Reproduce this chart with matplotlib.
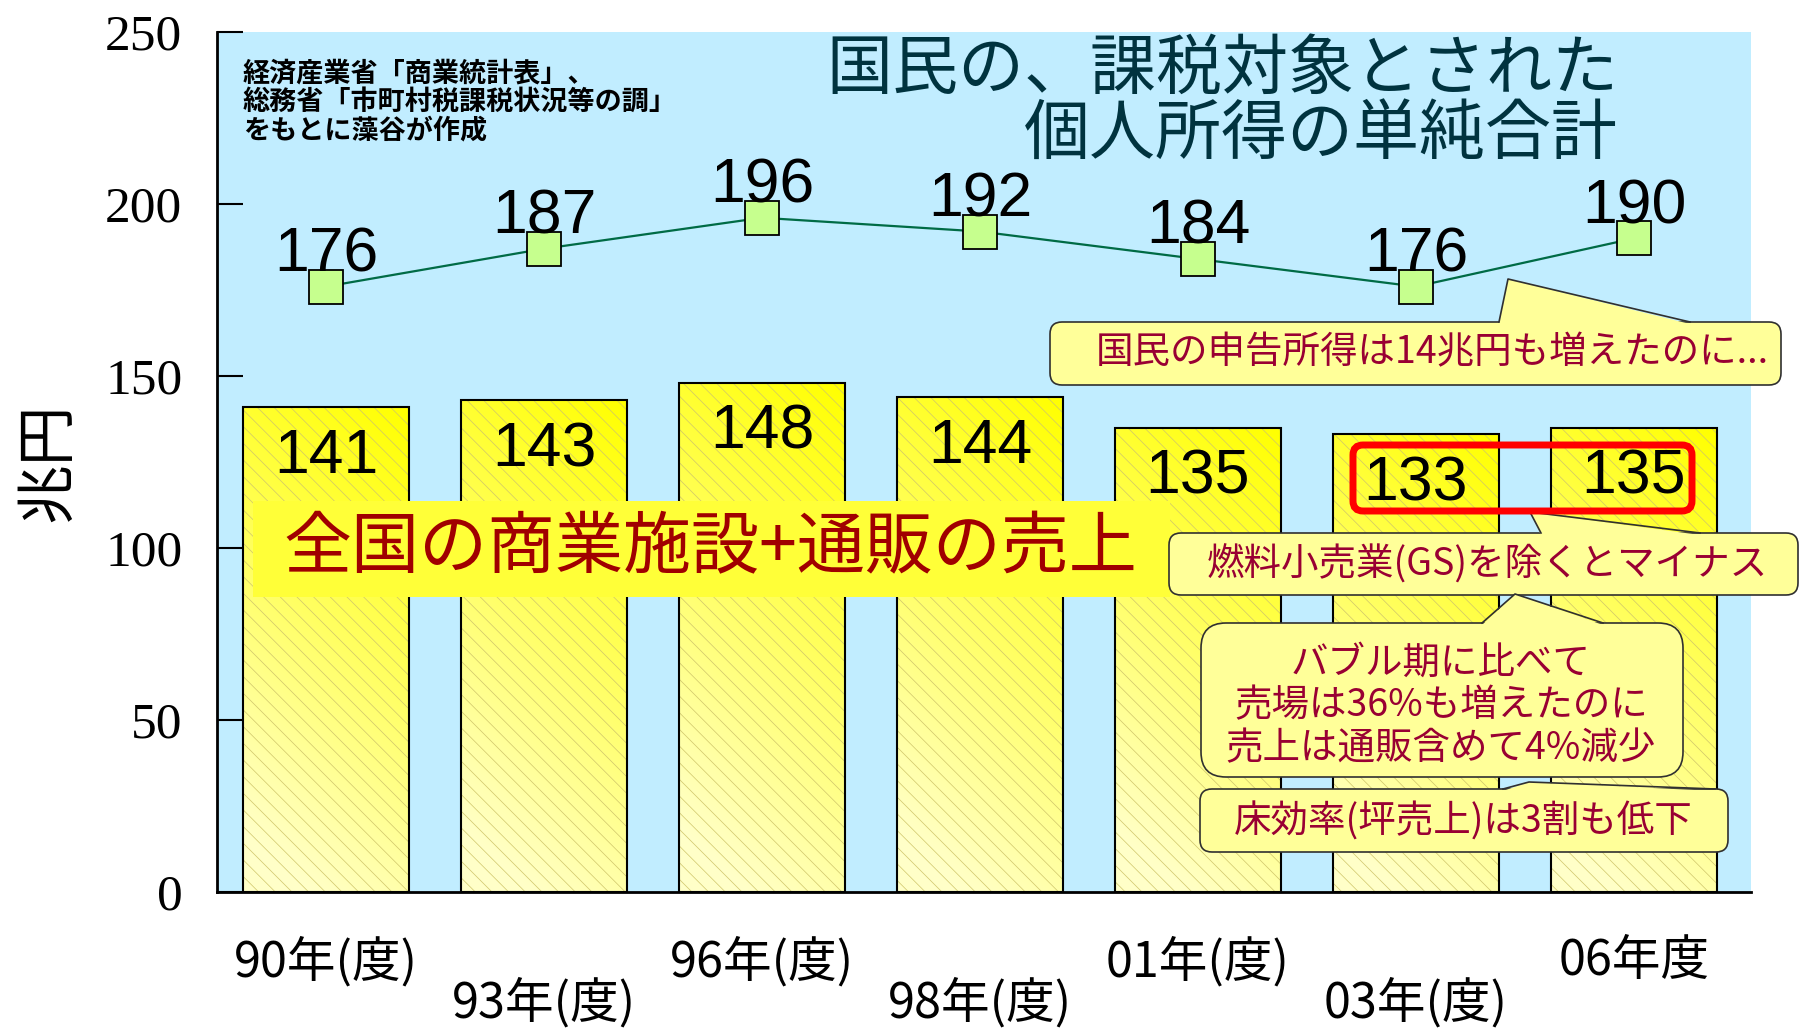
"""
全国の商業施設+通販の売上 vs 国民の課税対象個人所得（棒グラフ + 折れ線）。
"""
import numpy as np

import matplotlib
matplotlib.use("Agg")
import matplotlib.pyplot as plt
from matplotlib.colors import LinearSegmentedColormap
from matplotlib.patches import FancyBboxPatch, Polygon, Rectangle

# ── Data ──────────────────────────────────────────────────────────────────────
years   = ["90年(度)", "93年(度)", "96年(度)", "98年(度)", "01年(度)", "03年(度)", "06年度"]
sales   = [141, 143, 148, 144, 135, 133, 135]   # 全国の商業施設+通販の売上（兆円）
income  = [176, 187, 196, 192, 184, 176, 190]   # 課税対象個人所得の単純合計（兆円）
y_ticks = [0, 50, 100, 150, 200, 250]

y_label      = "兆円"
title_lines  = ["国民の、課税対象とされた", "個人所得の単純合計"]
source_lines = ["経済産業省「商業統計表」、", "総務省「市町村税課税状況等の調」", "をもとに藻谷が作成"]
sales_label  = "全国の商業施設+通販の売上"
notes = [
    "国民の申告所得は14兆円も増えたのに...",
    "燃料小売業(GS)を除くとマイナス",
    "バブル期に比べて\n売場は36%も増えたのに\n売上は通販含めて4%減少",
    "床効率(坪売上)は3割も低下",
]

# ── Style ─────────────────────────────────────────────────────────────────────
W, H, DPI = 1802, 1034, 100
BG        = "#c1edff"
LINE_C    = "#006b45"
MARK_C    = "#c6ff8e"
HATCH_C   = "#cfc56a"
NOTE_FC   = "#ffff99"
NOTE_EC   = "#303030"
NOTE_TXT  = "#990033"
LABEL_BG  = "#ffff38"
LABEL_TXT = "#a00000"
TITLE_C   = "#00333f"
NUM_FONT  = ["Liberation Sans Narrow", "Liberation Sans"]
TICK_FONT = ["Liberation Sans Narrow", "Noto Sans CJK JP", "DejaVu Sans"]

plt.rcParams["font.family"] = ["Noto Sans CJK JP", "DejaVu Sans"]
plt.rcParams["hatch.linewidth"] = 0.5

bar_cmap = LinearSegmentedColormap.from_list("bar", ["#ffff00", "#ffff60", "#ffffc8"])


def gradient_fill(ax, patch):
    """Diagonal yellow gradient (top-right strong -> bottom-left pale) clipped to a bar."""
    x0, y0 = patch.get_x(), patch.get_y()
    w, h = patch.get_width(), patch.get_height()
    rows, cols = np.mgrid[0:1:200j, 0:1:40j]
    t = np.clip(0.85 * rows + 0.25 * (1 - cols), 0, 1)
    im = ax.imshow(t, cmap=bar_cmap, vmin=0, vmax=1, extent=(x0, x0 + w, y0, y0 + h),
                   origin="upper", aspect="auto", interpolation="bilinear", zorder=2)
    im.set_clip_path(patch)


def callout(ov, box, pointer, radius):
    """Rounded note box with a triangular pointer leaving its top edge."""
    x0, y0, x1, y1 = box
    ov.add_patch(FancyBboxPatch((x0, y0), x1 - x0, y1 - y0,
                                boxstyle=f"round,pad=0,rounding_size={radius}",
                                fc=NOTE_FC, ec=NOTE_EC, lw=1.2, zorder=3))
    (bx0, by), (px, py), (bx1, _) = pointer
    ov.add_patch(Polygon([(bx0, by + 2), (px, py), (bx1, by + 2)], closed=True,
                         fc=NOTE_FC, ec="none", zorder=3))
    ov.plot([bx0, px, bx1], [by, py, by], color=NOTE_EC, lw=1.2, zorder=3)


# ── Main axes ─────────────────────────────────────────────────────────────────
fig = plt.figure(figsize=(W / DPI, H / DPI), dpi=DPI)
ax = fig.add_axes([217 / W, 1 - 892 / H, (1751 - 217) / W, (892 - 32) / H])
ax.set_facecolor(BG)

x = np.arange(len(years))
bar_w = 0.76

bars = ax.bar(x, sales, width=bar_w, color="none", edgecolor="black", linewidth=1.5, zorder=3)
ax.bar(x, sales, width=bar_w, fill=False, hatch="\\\\", edgecolor=HATCH_C, linewidth=0, zorder=2.5)
for b in bars:
    gradient_fill(ax, b)

ax.plot(x, income, color=LINE_C, lw=1.6, marker="s", ms=24.5,
        mfc=MARK_C, mec="black", mew=1.3, zorder=4)

for xi, v in zip(x, income):
    ax.annotate(str(v), (xi, v), xytext=(0, 11), textcoords="offset points",
                ha="center", va="baseline", fontsize=45, family=NUM_FONT, zorder=5)
for xi, v in zip(x, sales):
    ax.annotate(str(v), (xi, v), xytext=(0, -47.5), textcoords="offset points",
                ha="center", va="baseline", fontsize=45, family=NUM_FONT, zorder=5)

ax.set_xlim(-0.5, 6.537)
ax.set_ylim(0, 250)
for side in ("top", "right"):
    ax.spines[side].set_visible(False)
for side in ("left", "bottom"):
    ax.spines[side].set_linewidth(2)
    ax.spines[side].set_zorder(6)

ax.set_yticks(y_ticks)
ax.set_yticklabels([str(t) for t in y_ticks], family="Liberation Serif", fontsize=37)
ax.tick_params(axis="y", direction="in", length=19, width=1.5, pad=25)

# staggered year labels: even ones on the first row, odd ones on the second
ax.set_xticks(x[0::2], years[0::2])
ax.set_xticks(x[1::2], years[1::2], minor=True)
for lab in ax.get_xticklabels(which="both"):
    lab.set_family(TICK_FONT)
    lab.set_fontsize(35)
ax.tick_params(axis="x", which="both", length=0)
ax.tick_params(axis="x", which="major", pad=32)
ax.tick_params(axis="x", which="minor", pad=62)

ax.set_ylabel(y_label, fontsize=43)
ax.yaxis.set_label_coords(-0.09, 0.5)

# ── Overlay (pixel coordinates) for title, source and notes ──────────────────
ov = fig.add_axes([0, 0, 1, 1], zorder=10)
ov.set_xlim(0, W)
ov.set_ylim(H, 0)
ov.axis("off")
ov.patch.set_alpha(0)

ov.text(1618, 70, title_lines[0], ha="right", va="center", fontsize=47.5, color=TITLE_C)
ov.text(1618, 135, title_lines[1], ha="right", va="center", fontsize=47.5, color=TITLE_C)

for yy, line in zip([74, 102, 130], source_lines):
    ov.text(243, yy, line, ha="left", va="center", fontsize=19.5, fontweight="bold")

ov.add_patch(Rectangle((253, 501), 917, 96, fc=LABEL_BG, ec="none", zorder=2))
ov.text(710, 549, sales_label, ha="center", va="center", fontsize=49, color=LABEL_TXT, zorder=2)

callout(ov, (1050, 322, 1781, 385), [(1499, 322), (1508, 279), (1690, 322)], 12)
ov.text(1432, 353, notes[0], ha="center", va="center", fontsize=27, color=NOTE_TXT, zorder=4)

callout(ov, (1169, 533, 1798, 595), [(1541, 533), (1530, 512), (1700, 533)], 12)
ov.text(1487, 565, notes[1], ha="center", va="center", fontsize=27, color=NOTE_TXT, zorder=4)

callout(ov, (1201, 623, 1683, 777), [(1482, 623), (1515, 594), (1603, 623)], 25)
ov.text(1441, 706, notes[2], ha="center", va="center", multialignment="center",
        fontsize=27, linespacing=1.12, color=NOTE_TXT, zorder=4)

callout(ov, (1200, 789, 1728, 852), [(1503, 789), (1529, 782), (1715, 789)], 12)
ov.text(1463, 822, notes[3], ha="center", va="center", fontsize=27, color=NOTE_TXT, zorder=4)

ov.add_patch(FancyBboxPatch((1353, 445), 339, 66, boxstyle="round,pad=0,rounding_size=10",
                            fc="none", ec="#ff0000", lw=5, zorder=5))

fig.savefig("out.png", dpi=DPI)
